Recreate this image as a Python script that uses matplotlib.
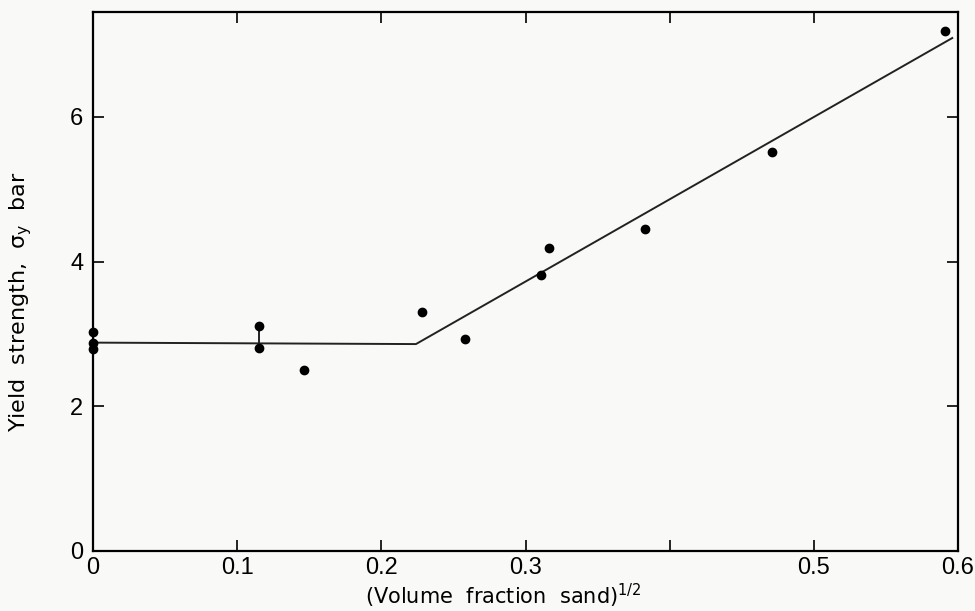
import matplotlib.pyplot as plt
import numpy as np

# measured points (sqrt of volume fraction sand, yield strength in bar)
frac = [0.0, 0.0, 0.0, 0.115, 0.115, 0.146, 0.228, 0.258, 0.311, 0.316, 0.383, 0.471, 0.591]
sigma = [3.02, 2.88, 2.79, 3.11, 2.80, 2.50, 3.30, 2.93, 3.81, 4.19, 4.45, 5.51, 7.19]

# fitted two-segment line
fit_x = [0.0, 0.224, 0.596]
fit_y = [2.88, 2.86, 7.09]

xticks = [0, 0.1, 0.2, 0.3, 0.4, 0.5, 0.6]
xlabels = ['0', '0.1', '0.2', '0.3', '', '0.5', '0.6']
yticks = [0, 2, 4, 6]

plt.rcParams['font.family'] = ['Liberation Sans', 'DejaVu Sans']
bg = '#f9faf8'

fig = plt.figure(figsize=(9.75, 6.11), dpi=100, facecolor=bg)
ax = fig.add_axes([0.0954, 0.0982, 0.8872, 0.8822], facecolor=bg)

ax.plot(fit_x, fit_y, color='#222222', lw=1.4)
# short connector between the two points at 0.115
ax.plot([frac[3], frac[4]], [sigma[3], sigma[4]], color='#222222', lw=1.4)
ax.plot(frac, sigma, 'o', color='black', ms=6, clip_on=False, zorder=3)

ax.set_xlim(0, 0.6)
ax.set_ylim(0, 7.45)
ax.set_xticks(xticks)
ax.set_xticklabels(xlabels)
ax.set_yticks(yticks)

ax.tick_params(direction='in', length=8, width=1.2, top=True, right=True,
               labelsize=17)
ax.tick_params(axis='x', pad=4)
ax.tick_params(axis='y', pad=7)
for s in ax.spines.values():
    s.set_linewidth(1.6)

ax.set_xlabel(r'(Volume  fraction  sand)$^{\mathregular{1/2}}$', fontsize=15,
              family='DejaVu Sans')
ax.xaxis.set_label_coords(0.474, -0.058)
ax.set_ylabel(r'Yield  strength,  $\mathregular{\sigma_y}$  bar', fontsize=16,
              family='DejaVu Sans')
ax.yaxis.set_label_coords(-0.068, 0.462)

fig.savefig('out.png', dpi=100, facecolor=bg)
